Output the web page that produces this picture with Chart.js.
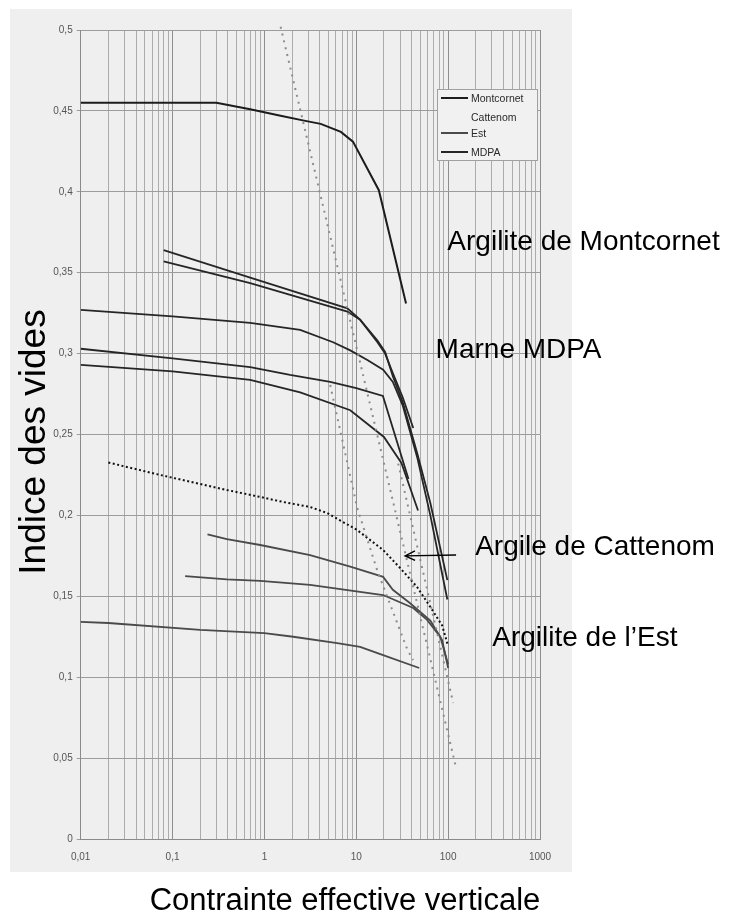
<!DOCTYPE html>
<html>
<head>
<meta charset="utf-8">
<title>Indice des vides</title>
<script src="https://cdn.jsdelivr.net/npm/chart.js@4.4.0/dist/chart.umd.min.js"></script>
<style>
  html, body { margin: 0; padding: 0; background: #fff; }
  #wrap { width: 733px; height: 912px; }
</style>
</head>
<body>
<div id="wrap"><canvas id="voidChart" width="733" height="912"></canvas></div>
<script>
// Axis ticks
const xMajor = [0.01, 0.1, 1, 10, 100, 1000];
const xTickLabels = ['0,01', '0,1', '1', '10', '100', '1000'];
const yTicks = [0, 0.05, 0.1, 0.15, 0.2, 0.25, 0.3, 0.35, 0.4, 0.45, 0.5];
const yTickLabels = ['0', '0,05', '0,1', '0,15', '0,2', '0,25', '0,3', '0,35', '0,4', '0,45', '0,5'];
const xTitle = 'Contrainte effective verticale';
const yTitle = 'Indice des vides';

// Argilite de Montcornet
const montcornetX = [0.01, 0.3, 0.7, 1.5, 2.7, 4.1, 6.8, 9.2, 17.6, 34.8];
const montcornetY = [0.455, 0.455, 0.451, 0.447, 0.444, 0.442, 0.437, 0.431, 0.401, 0.331];

// Marne MDPA (5 essais)
const mdpaAX = [0.08, 0.7, 8, 11, 17, 20.6, 25, 32, 41.7];
const mdpaAY = [0.364, 0.347, 0.328, 0.321, 0.307, 0.300, 0.288, 0.273, 0.254];
const mdpaBX = [0.08, 0.7, 8, 11, 17, 20.6, 25, 32, 46, 64, 98];
const mdpaBY = [0.357, 0.3436, 0.326, 0.321, 0.308, 0.301, 0.286, 0.270, 0.2386, 0.2077, 0.160];
const mdpaCX = [0.01, 0.1, 0.7, 2.45, 5.6, 8.6, 13.2, 19.6, 25, 32, 46, 64, 98];
const mdpaCY = [0.327, 0.323, 0.319, 0.3146, 0.307, 0.302, 0.296, 0.290, 0.2825, 0.268, 0.236, 0.200, 0.148];
const mdpaDX = [0.01, 0.1, 0.7, 1.9, 5.2, 10, 19.5, 37];
const mdpaDY = [0.303, 0.297, 0.2917, 0.2868, 0.2825, 0.2787, 0.2738, 0.2225];
const mdpaEX = [0.01, 0.1, 0.7, 2.45, 8.6, 20, 31, 47];
const mdpaEY = [0.293, 0.289, 0.2837, 0.276, 0.265, 0.2485, 0.2324, 0.203];

// Argile de Cattenom
const cattenomX = [0.02, 0.073, 0.2, 0.39, 0.9, 1.6, 3.14, 4.8, 10.2, 19.6, 30, 46, 64, 86, 99];
const cattenomY = [0.2327, 0.225, 0.2194, 0.2157, 0.2114, 0.2083, 0.2052, 0.2015, 0.191, 0.1786, 0.1675, 0.1557, 0.1434, 0.132, 0.12];

// Argilite de l'Est (3 essais)
const est1X = [0.24, 0.39, 0.9, 3.14, 8.6, 19.6, 25, 38, 64, 86, 100];
const est1Y = [0.1882, 0.1853, 0.1817, 0.1755, 0.1683, 0.162, 0.154, 0.146, 0.135, 0.123, 0.1057];
const est2X = [0.137, 0.39, 0.9, 3.14, 19.6, 41.7, 59, 82, 100];
const est2Y = [0.1625, 0.1605, 0.1595, 0.157, 0.1508, 0.1428, 0.1354, 0.125, 0.108];
const est3X = [0.01, 0.02, 0.2, 1, 2.06, 6.2, 11, 19.6, 48.5];
const est3Y = [0.1342, 0.1335, 0.1292, 0.1273, 0.125, 0.121, 0.1188, 0.1137, 0.1057];

// Tracés pointillés gris
const guide1X = [1.5, 122];
const guide1Y = [0.502, 0.044];
const guide2X = [5.2, 10.2, 16.9, 36, 41.7];
const guide2Y = [0.2806, 0.205, 0.166, 0.117, 0.1106];
const guide3X = [28.6, 113.6];
const guide3Y = [0.232, 0.084];

const legendLabels = ['Montcornet', 'Cattenom', 'Est', 'MDPA'];
const notes = [
    { text: 'Argilite de Montcornet', x: 98, y: 0.369 },
    { text: 'Marne MDPA', x: 73, y: 0.302 },
    { text: 'Argile de Cattenom', x: 197, y: 0.18 },
    { text: 'Argilite de l\u2019Est', x: 302, y: 0.124 }
];
const arrowFrom = { x: 122, y: 0.1755 };
const arrowTo = { x: 34, y: 0.175 };

function pts(xs, ys) {
    return xs.map((x, i) => ({ x: x, y: ys[i] }));
}

function curve(label, xs, ys, color, width, dash, extra) {
    return Object.assign({
        label: label,
        data: pts(xs, ys),
        borderColor: color,
        borderWidth: width,
        borderDash: dash || [],
        pointRadius: 0,
        tension: 0,
        fill: false
    }, extra || {});
}

const guideColor = '#8c8c8c';
const datasets = [
    curve('guide', guide1X, guide1Y, guideColor, 2, [2, 5], { clip: { left: 0, top: 6, right: 0, bottom: 0 } }),
    curve('guide', guide2X, guide2Y, guideColor, 2, [2, 5]),
    curve('guide', guide3X, guide3Y, guideColor, 2, [2, 5]),
    curve('Montcornet', montcornetX, montcornetY, '#1c1c1c', 2),
    curve('Cattenom', cattenomX, cattenomY, '#111111', 2, [2, 2.5], { legendSample: false }),
    curve('Est', est1X, est1Y, '#4a4a4a', 1.8),
    curve('Est', est2X, est2Y, '#4a4a4a', 1.8),
    curve('Est', est3X, est3Y, '#4a4a4a', 1.8),
    curve('MDPA', mdpaAX, mdpaAY, '#262626', 1.8),
    curve('MDPA', mdpaBX, mdpaBY, '#262626', 1.8),
    curve('MDPA', mdpaCX, mdpaCY, '#262626', 1.8),
    curve('MDPA', mdpaDX, mdpaDY, '#262626', 1.8),
    curve('MDPA', mdpaEX, mdpaEY, '#262626', 1.8)
];

const FONT = '"Liberation Sans", Arial, sans-serif';

// gray panel behind everything
const panelPlugin = {
    id: 'panel',
    beforeDraw(chart) {
        const c = chart.ctx;
        c.save();
        c.fillStyle = '#ffffff';
        c.fillRect(0, 0, chart.width, chart.height);
        c.fillStyle = '#efefef';
        c.fillRect(10, 9, 562, 863);
        c.restore();
    }
};

// legend box, notes, arrow, axis titles
const notesPlugin = {
    id: 'notes',
    afterDatasetsDraw(chart) {
        const c = chart.ctx;
        const area = chart.chartArea;
        const xs = chart.scales.x;
        const ys = chart.scales.y;
        c.save();

        // legend
        const lx = area.right - 103;
        const ly = area.top + 59;
        c.fillStyle = '#f1f1f1';
        c.strokeStyle = '#a0a0a0';
        c.lineWidth = 1;
        c.fillRect(lx, ly, 100, 71);
        c.strokeRect(lx + 0.5, ly + 0.5, 100, 71);
        const rows = [9, 28, 44, 63];
        c.font = '10.5px ' + FONT;
        c.textBaseline = 'middle';
        c.textAlign = 'left';
        legendLabels.forEach((name, i) => {
            const ds = chart.data.datasets.find(d => d.label === name);
            const y = ly + rows[i];
            if (ds && ds.legendSample !== false) {
                c.strokeStyle = ds.borderColor;
                c.lineWidth = 2;
                c.beginPath();
                c.moveTo(lx + 4, y);
                c.lineTo(lx + 31, y);
                c.stroke();
            }
            c.fillStyle = '#2a2a2a';
            c.fillText(name, lx + 34, y + 1);
        });

        // notes
        c.font = '28px ' + FONT;
        c.fillStyle = '#000';
        notes.forEach(n => {
            c.fillText(n.text, xs.getPixelForValue(n.x), ys.getPixelForValue(n.y));
        });

        // arrow
        const x1 = xs.getPixelForValue(arrowFrom.x), y1 = ys.getPixelForValue(arrowFrom.y);
        const x2 = xs.getPixelForValue(arrowTo.x), y2 = ys.getPixelForValue(arrowTo.y);
        const ang = Math.atan2(y2 - y1, x2 - x1);
        c.strokeStyle = '#000';
        c.lineWidth = 1.4;
        c.beginPath();
        c.moveTo(x1, y1);
        c.lineTo(x2, y2);
        c.moveTo(x2 - 11 * Math.cos(ang - 0.45), y2 - 11 * Math.sin(ang - 0.45));
        c.lineTo(x2, y2);
        c.lineTo(x2 - 11 * Math.cos(ang + 0.45), y2 - 11 * Math.sin(ang + 0.45));
        c.stroke();

        // axis titles
        c.fillStyle = '#000';
        c.textAlign = 'center';
        c.textBaseline = 'alphabetic';
        c.font = '31px ' + FONT;
        c.fillText(xTitle, 345, 910);
        c.translate(45, 442);
        c.rotate(-Math.PI / 2);
        c.font = '37px ' + FONT;
        c.fillText(yTitle, 0, 0);
        c.restore();
    }
};

function isMajor(v) {
    return xMajor.some(m => Math.abs(v - m) / m < 1e-9);
}

const ctx = document.getElementById('voidChart').getContext('2d');
const voidChart = new Chart(ctx, {
    type: 'line',
    data: { datasets: datasets },
    options: {
        responsive: false,
        animation: false,
        layout: { padding: { left: 10, right: 193, top: 30, bottom: 0 } },
        scales: {
            x: {
                type: 'logarithmic',
                min: 0.01,
                max: 1000,
                afterBuildTicks(axis) {
                    const t = [];
                    xMajor.forEach(m => {
                        for (let k = 1; k <= 9; k++) {
                            if (m * k <= 1000) t.push({ value: m * k });
                        }
                    });
                    axis.ticks = t;
                },
                afterFit(axis) { axis.height = 73; },
                ticks: {
                    autoSkip: false,
                    maxRotation: 0,
                    padding: 12,
                    color: '#555',
                    font: { family: FONT, size: 10 },
                    callback(value) {
                        const i = xMajor.findIndex(m => Math.abs(value - m) / m < 1e-9);
                        return i >= 0 ? xTickLabels[i] : '';
                    }
                },
                grid: {
                    drawTicks: false,
                    color: (c) => (c.tick && isMajor(c.tick.value)) ? '#8e8e8e' : '#acacac',
                    lineWidth: 1
                },
                border: { color: '#8a8a8a' },
                title: { display: false }
            },
            y: {
                type: 'linear',
                min: 0,
                max: 0.5,
                afterBuildTicks(axis) {
                    axis.ticks = yTicks.map(v => ({ value: v }));
                },
                afterFit(axis) { axis.width = 70.7; },
                ticks: {
                    padding: 4,
                    color: '#555',
                    font: { family: FONT, size: 10 },
                    callback(value, index) { return yTickLabels[index]; }
                },
                grid: { color: '#9c9c9c', tickLength: 4, lineWidth: 1 },
                border: { color: '#8a8a8a' },
                title: { display: false }
            }
        },
        plugins: {
            legend: { display: false },
            tooltip: { enabled: false }
        }
    },
    plugins: [panelPlugin, notesPlugin]
});
</script>
</body>
</html>
